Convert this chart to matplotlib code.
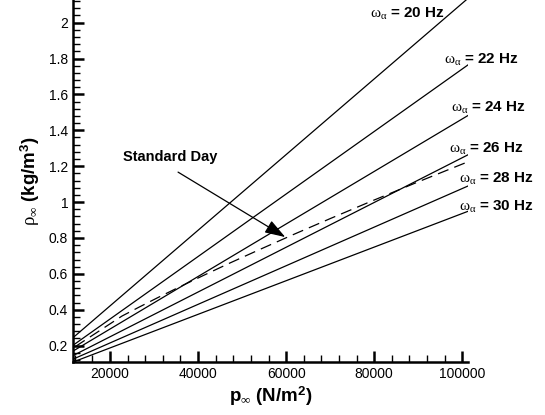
import matplotlib
matplotlib.use("Agg")
import matplotlib.pyplot as plt
from matplotlib.ticker import MultipleLocator

plt.rcParams["font.family"] = ["Liberation Sans", "DejaVu Sans"]
plt.rcParams["mathtext.fontset"] = "custom"
plt.rcParams["mathtext.rm"] = "Liberation Serif"
plt.rcParams["mathtext.it"] = "Liberation Serif:italic"
plt.rcParams["mathtext.bf"] = "Liberation Sans:bold"

# Constant-frequency lines: density at the two ends of the pressure range
freqs_hz = [20, 22, 24, 26, 28, 30]
p_ends = [11600, 101325]
rho_low = [0.2445, 0.2021, 0.1698, 0.1447, 0.1248, 0.1087]
rho_high = [2.136, 1.765, 1.483, 1.264, 1.090, 0.949]

# Standard day atmosphere (pressure, density)
p_std = [12112, 14170, 16580, 19399, 22700, 26500, 30800, 35651, 41105,
         47181, 54048, 61660, 70121, 79501, 89876, 101325]
rho_std = [0.1948, 0.2279, 0.2666, 0.3119, 0.3648, 0.4135, 0.4671, 0.5258,
           0.5900, 0.6601, 0.7364, 0.8194, 0.9093, 1.0066, 1.1117, 1.225]

# Label anchor points for each frequency line
label_p = [79000, 95800, 97400, 97000, 99300, 99300]
label_rho = [2.048, 1.792, 1.525, 1.297, 1.129, 0.973]

fig = plt.figure(figsize=(5.45, 4.15), dpi=100)
ax = fig.add_axes([0.134, 0.1277, 0.725, 0.8723])

for f, r0, r1, lp, lr in zip(freqs_hz, rho_low, rho_high, label_p, label_rho):
    ax.plot(p_ends, [r0, r1], color="black", lw=0.9)
    ax.text(lp, lr, r"$\mathrm{\omega}_{\mathrm{\alpha}}$" + f" = {f} Hz",
            fontsize=11, fontweight="bold", ha="left", va="center",
            clip_on=False)

ax.plot(p_std, rho_std, color="black", lw=0.9, dashes=(9, 5))

ax.text(22950, 1.25, "Standard Day", fontsize=10.5, fontweight="bold",
        ha="left", va="center")
ax.annotate("", xy=(59800, 0.805), xytext=(35450, 1.167),
            arrowprops=dict(arrowstyle="-|>,head_length=0.9,head_width=0.3",
                            color="black", lw=0.9, mutation_scale=14,
                            shrinkA=0, shrinkB=0))

ax.set_xlim(11600, 101325)
ax.set_ylim(0.109, 2.126)

ax.xaxis.set_major_locator(MultipleLocator(20000))
ax.xaxis.set_minor_locator(MultipleLocator(4000))
ax.yaxis.set_major_locator(MultipleLocator(0.2))
ax.yaxis.set_minor_locator(MultipleLocator(0.04))

ax.tick_params(which="both", direction="in", labelsize=10)
ax.tick_params(which="major", length=8, width=1.8)
ax.tick_params(which="minor", length=5, width=1)
ax.yaxis.set_major_formatter(plt.FuncFormatter(lambda v, _: f"{v:g}"))

for s in ("top", "right"):
    ax.spines[s].set_visible(False)
for s in ("left", "bottom"):
    ax.spines[s].set_linewidth(1.8)

ax.set_xlabel(r"p$_{\infty}$ (N/m$^{\mathbf{2}}$)", fontsize=13.5,
              fontweight="bold", labelpad=3)
ax.set_ylabel(r"$\mathrm{\rho}_{\infty}$ (kg/m$^{\mathbf{3}}$)", fontsize=13.5,
              fontweight="bold", labelpad=5)

fig.savefig("out.png", dpi=100)
